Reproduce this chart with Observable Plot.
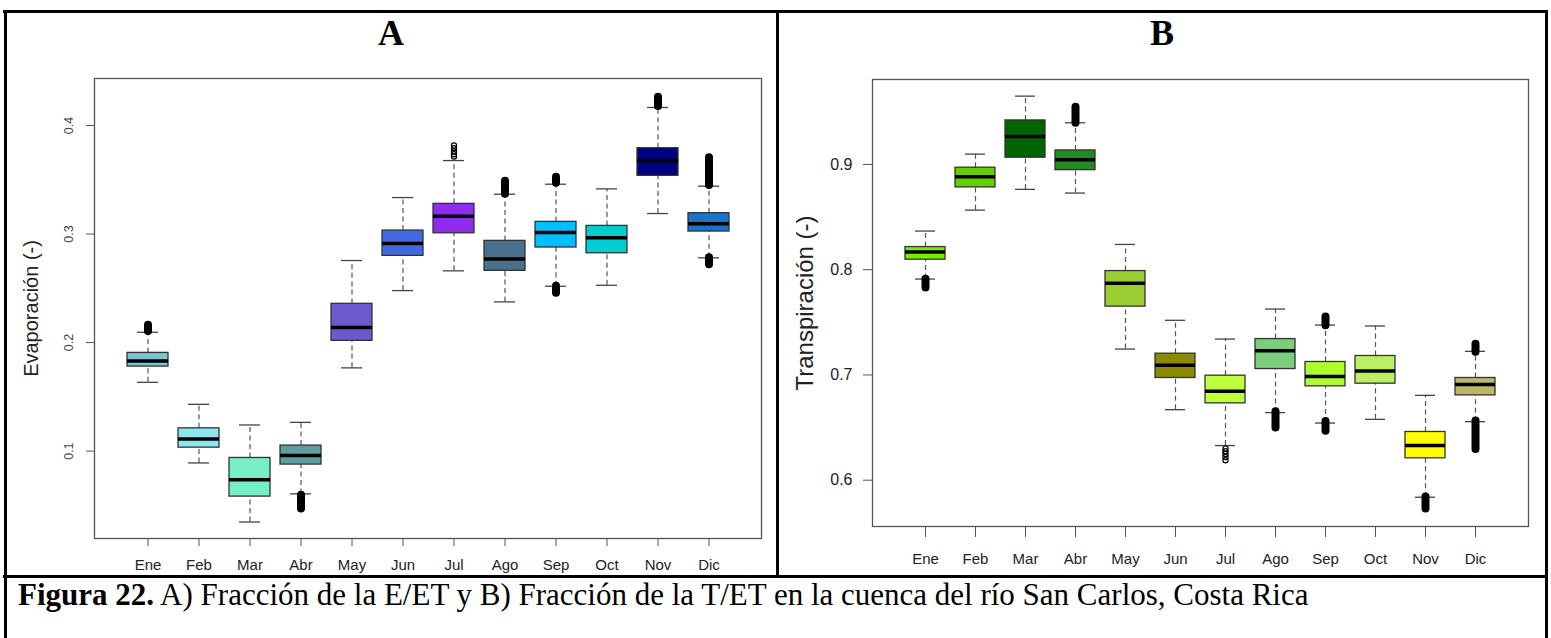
<!DOCTYPE html>
<html><head><meta charset="utf-8">
<script src="https://cdn.jsdelivr.net/npm/d3@7"></script>
<script src="https://cdn.jsdelivr.net/npm/@observablehq/plot@0.6"></script>
<style>
body{margin:0;background:#fff;}
#fig{position:relative;width:1551px;height:638px;overflow:hidden;background:#fff;font-family:"Liberation Sans",Arial,sans-serif;}
.line{position:absolute;background:#000;}
.title{position:absolute;top:15px;font-family:"Liberation Serif","Times New Roman",serif;font-weight:bold;font-size:36px;line-height:36px;text-align:center;color:#000;}
#caption{position:absolute;left:18px;top:579px;font-family:"Liberation Serif","Times New Roman",serif;font-size:31px;line-height:31px;white-space:nowrap;color:#000;}
.panel{position:absolute;top:0;}
.panel svg{display:block;}
</style></head>
<body>
<div id="fig">
  <div class="panel" id="panelA" style="left:0px"></div>
  <div class="panel" id="panelB" style="left:776px"></div>
  <div class="title" style="left:6px;width:770px">A</div>
  <div class="title" style="left:779px;width:766px">B</div>
  <div id="caption"><b>Figura 22.</b> A) Fracción de la E/ET y B) Fracción de la T/ET en la cuenca del río San Carlos, Costa Rica</div>
  <div class="line" style="left:3px;top:10px;width:1545px;height:3px"></div>
  <div class="line" style="left:4px;top:10px;width:3px;height:628px"></div>
  <div class="line" style="left:1545px;top:10px;width:3px;height:628px"></div>
  <div class="line" style="left:776px;top:10px;width:3px;height:567px"></div>
  <div class="line" style="left:3px;top:575px;width:1545px;height:3px"></div>
</div>
<script>
// ---- shared categories ----
const months = ["Ene","Feb","Mar","Abr","May","Jun","Jul","Ago","Sep","Oct","Nov","Dic"];

// ---- Panel A: Evaporación (E/ET) ----
const evapLower  = [0.1634,0.0891,0.0347,0.0606,0.1767,0.2479,0.2661,0.2375,0.2519,0.2528,0.3189,0.2781];
const evapQ1     = [0.1779,0.1032,0.0581,0.0876,0.2016,0.2799,0.3007,0.2661,0.2876,0.2823,0.3536,0.3023];
const evapMedian = [0.1831,0.1112,0.0737,0.0959,0.2138,0.2912,0.3164,0.2771,0.3014,0.2965,0.3677,0.3094];
const evapQ3     = [0.1905,0.1210,0.0937,0.1051,0.2357,0.3032,0.3278,0.2937,0.3112,0.3075,0.3791,0.3192];
const evapUpper  = [0.2095,0.1431,0.1241,0.1265,0.2756,0.3336,0.3677,0.3367,0.3459,0.3416,0.4166,0.3441];
const evapColors = ["#7AC5CD","#8EE5EE","#76EEC6","#5F9EA0","#6A5ACD","#4169E1","#912CEE","#4A708B","#00BFFF","#00CED1","#000080","#1874CD"];
// dense outlier runs: [month, from, to]
const evapOutlierRuns = [["Ene",0.2101,0.2159],["Abr",0.0593,0.0467],["Ago",0.3367,0.3487],["Sep",0.3468,0.3524],["Sep",0.2519,0.2454],["Nov",0.4175,0.4260],["Dic",0.3447,0.3702],["Dic",0.2781,0.2716]];
const evapOpenOutliers = [["Jul",0.3714],["Jul",0.3735],["Jul",0.3760],["Jul",0.3790],["Jul",0.3816]];
const evapTicks = [0.1,0.2,0.3,0.4];
const evapDomain = [0.0195,0.4433];

// ---- Panel B: Transpiración (T/ET) ----
const transLower  = [0.7911,0.8566,0.8763,0.8728,0.7246,0.6670,0.6329,0.6642,0.6543,0.6578,0.5838,0.6556];
const transQ1     = [0.8095,0.8782,0.9064,0.8946,0.7649,0.6971,0.6730,0.7056,0.6892,0.6917,0.6208,0.6806];
const transMedian = [0.8167,0.8883,0.9266,0.9045,0.7870,0.7091,0.6844,0.7231,0.6984,0.7037,0.6329,0.6908];
const transQ3     = [0.8215,0.8969,0.9418,0.9133,0.7987,0.7202,0.6993,0.7341,0.7123,0.7180,0.6458,0.6971];
const transUpper  = [0.8367,0.9098,0.9649,0.9396,0.8240,0.7519,0.7341,0.7626,0.7474,0.7465,0.6806,0.7224];
const transColors = ["#76EE00","#66CD00","#006400","#228B22","#9ACD32","#8B8B00","#C0FF3E","#7CCD7C","#ADFF2F","#BCEE68","#FFFF00","#BDB76B"];
const transOutlierRuns = [["Ene",0.7908,0.7825],["Abr",0.9392,0.9544],["Ago",0.6651,0.6496],["Sep",0.7468,0.7550],["Sep",0.6557,0.6464],["Nov",0.5840,0.5727],["Dic",0.7215,0.7291],["Dic",0.6562,0.6291]];
const transOpenOutliers = [["Jul",0.6300],["Jul",0.6275],["Jul",0.6250],["Jul",0.6220],["Jul",0.6190]];
const transTicks = [0.6,0.7,0.8,0.9];
const transDomain = [0.556,0.9807];

function rowsOf(lo,q1,med,q3,hi,col){
  return months.map((m,i)=>({m, lo:lo[i], q1:q1[i], med:med[i], q3:q3[i], hi:hi[i], c:col[i]}));
}

function boxPanel(o){
  const rows = o.rows;
  const marks = [
    Plot.ruleX(rows,{x:"m", y1:"lo", y2:"q1", stroke:"#555", strokeWidth:1.2, strokeDasharray:"5,3.5"}),
    Plot.ruleX(rows,{x:"m", y1:"q3", y2:"hi", stroke:"#555", strokeWidth:1.2, strokeDasharray:"5,3.5"}),
    Plot.tickY(rows,{x:"m", y:"lo", stroke:"#444", strokeWidth:1.3, insetLeft:10, insetRight:10}),
    Plot.tickY(rows,{x:"m", y:"hi", stroke:"#444", strokeWidth:1.3, insetLeft:10, insetRight:10}),
    Plot.barY(rows,{x:"m", y1:"q1", y2:"q3", fill:"c", stroke:"#333", strokeWidth:1.3}),
    Plot.tickY(rows,{x:"m", y:"med", stroke:"#000", strokeWidth:3.5}),
    Plot.ruleX(o.runs,{x:d=>d[0], y1:d=>d[1], y2:d=>d[2], stroke:"#000", strokeWidth:8, strokeLinecap:"round"}),
    Plot.dot(o.open,{x:d=>d[0], y:d=>d[1], r:2.6, stroke:"#000", strokeWidth:1.2, fill:"none"}),
    Plot.frame({stroke:"#555", strokeWidth:1.3}),
    Plot.axisX({tickSize:o.xTickSize, tickPadding:o.xPad, fontSize:15, stroke:"#555", fill:"#222", label:null}),
  ];
  if (o.rotateY) {
    marks.push(Plot.axisY({ticks:o.ticks, tickSize:o.yTickSize, tickFormat:()=>"", stroke:"#555", label:null}));
    marks.push(Plot.text(o.ticks,{y:d=>d, text:d=>d.toFixed(1), frameAnchor:"left", dx:o.yTextDx, rotate:-90, lineAnchor:"bottom", textAnchor:"middle", fontSize:o.yFont, fill:o.yColor}));
  } else {
    marks.push(Plot.axisY({ticks:o.ticks, tickSize:o.yTickSize, tickPadding:o.yPad, tickFormat:d=>d.toFixed(1), fontSize:o.yFont, stroke:"#555", fill:o.yColor, label:null}));
  }
  marks.push(Plot.text([o.yTitle],{text:d=>d, frameAnchor:"left", dx:o.titleDx, rotate:-90, lineAnchor:"middle", textAnchor:"middle", fontSize:o.titleFont, fill:"#222"}));
  return Plot.plot({
    width:o.width, height:o.height,
    marginLeft:o.mL, marginRight:o.mR, marginTop:o.mT, marginBottom:o.mB,
    x:{type:"band", domain:months, paddingInner:0.2, paddingOuter:0.6, axis:null},
    y:{domain:o.domain, axis:null},
    color:{type:"identity"},
    style:{fontFamily:"'Liberation Sans', Arial, sans-serif", background:"transparent", overflow:"visible"},
    marks
  });
}

document.getElementById("panelA").append(boxPanel({
  rows: rowsOf(evapLower,evapQ1,evapMedian,evapQ3,evapUpper,evapColors),
  runs: evapOutlierRuns, open: evapOpenOutliers, ticks: evapTicks, domain: evapDomain,
  width:776, height:577, mL:94, mR:15, mT:78, mB:39,
  xTickSize:8, xPad:13, yTickSize:8, rotateY:true, yTextDx:-22, yFont:12.5, yColor:"#444",
  yTitle:"Evaporación (-)", titleDx:-63, titleFont:20
}));

document.getElementById("panelB").append(boxPanel({
  rows: rowsOf(transLower,transQ1,transMedian,transQ3,transUpper,transColors),
  runs: transOutlierRuns, open: transOpenOutliers, ticks: transTicks, domain: transDomain,
  width:775, height:577, mL:96, mR:23, mT:79, mB:51,
  xTickSize:11, xPad:16, yTickSize:9, yPad:11, rotateY:false, yFont:16, yColor:"#222",
  yTitle:"Transpiración (-)", titleDx:-67, titleFont:24
}));
</script>
</body></html>
